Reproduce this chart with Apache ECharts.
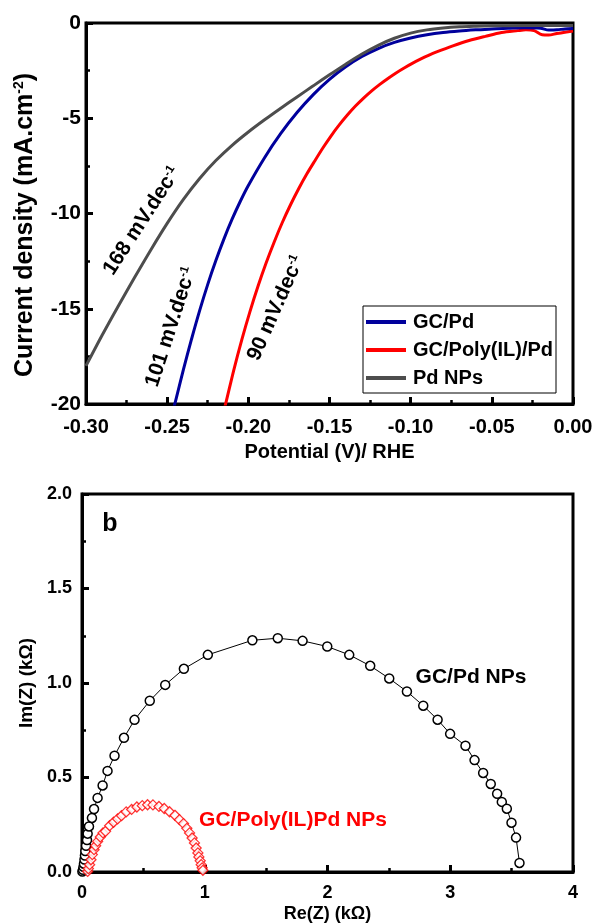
<!DOCTYPE html>
<html>
<head>
<meta charset="utf-8">
<script src="https://cdn.jsdelivr.net/npm/echarts@6/dist/echarts.min.js"></script>
<style>html,body{margin:0;padding:0;background:#fff;}#c{width:596px;height:924px;}</style>
</head>
<body>
<div id="c"></div>
<script>
// ---- Panel a: polarization curves (potential V vs RHE, current density mA/cm2) ----
const potentialTicks = [-0.30, -0.25, -0.20, -0.15, -0.10, -0.05, 0.00];
const pdNPsV = [-0.30,-0.29,-0.28,-0.27,-0.26,-0.25,-0.24,-0.23,-0.22,-0.21,-0.20,-0.19,-0.18,-0.17,-0.16,-0.15,-0.14,-0.13,-0.12,-0.11,-0.10,-0.09,-0.08,-0.07,-0.06,-0.05,-0.04,-0.02,0];
const pdNPsJ = [-18.0,-16.38,-14.84,-13.35,-11.9,-10.52,-9.26,-8.16,-7.22,-6.42,-5.72,-5.08,-4.47,-3.88,-3.3,-2.72,-2.16,-1.63,-1.17,-0.8,-0.53,-0.36,-0.26,-0.2,-0.17,-0.15,-0.14,-0.13,-0.13];
const gcPdV = [-0.246,-0.245,-0.24,-0.235,-0.23,-0.225,-0.22,-0.215,-0.21,-0.205,-0.20,-0.19,-0.18,-0.17,-0.16,-0.15,-0.14,-0.13,-0.12,-0.11,-0.10,-0.09,-0.08,-0.07,-0.06,-0.05,-0.04,-0.03,-0.02,-0.015,-0.01,-0.005,0];
const gcPdJ = [-20.2,-19.9,-18.2,-16.6,-15.1,-13.72,-12.47,-11.33,-10.3,-9.37,-8.53,-7.07,-5.8,-4.7,-3.76,-2.96,-2.3,-1.76,-1.34,-1.02,-0.79,-0.62,-0.5,-0.42,-0.36,-0.31,-0.28,-0.25,-0.27,-0.37,-0.36,-0.31,-0.29];
const polyV = [-0.215,-0.214,-0.209,-0.204,-0.199,-0.194,-0.189,-0.184,-0.179,-0.174,-0.169,-0.164,-0.159,-0.154,-0.149,-0.144,-0.139,-0.134,-0.129,-0.124,-0.119,-0.114,-0.109,-0.104,-0.099,-0.094,-0.089,-0.084,-0.074,-0.064,-0.054,-0.044,-0.034,-0.029,-0.024,-0.019,-0.015,-0.01,-0.005,0];
const polyJ = [-20.3,-20.0,-18.23,-16.62,-15.15,-13.81,-12.59,-11.48,-10.46,-9.54,-8.7,-7.93,-7.23,-6.55,-5.92,-5.35,-4.83,-4.36,-3.94,-3.56,-3.22,-2.91,-2.62,-2.36,-2.12,-1.9,-1.7,-1.52,-1.2,-0.92,-0.7,-0.5,-0.4,-0.36,-0.4,-0.62,-0.63,-0.55,-0.48,-0.42];
const seriesNamesA = ['GC/Pd', 'GC/Poly(IL)/Pd', 'Pd NPs'];

// ---- Panel b: Nyquist plots (kOhm) ----
const gcPdRe = [0.003,0.008,0.012,0.016,0.020,0.024,0.027,0.033,0.041,0.046,0.057,0.081,0.098,0.127,0.168,0.208,0.265,0.342,0.428,0.552,0.678,0.830,1.025,1.388,1.595,1.797,1.998,2.177,2.348,2.503,2.647,2.780,2.897,2.999,3.124,3.198,3.268,3.330,3.382,3.420,3.461,3.499,3.536,3.564];
const gcPdIm = [0.002,0.012,0.027,0.044,0.066,0.087,0.111,0.139,0.169,0.203,0.241,0.286,0.333,0.392,0.458,0.535,0.615,0.710,0.805,0.906,0.990,1.075,1.149,1.226,1.237,1.223,1.193,1.149,1.091,1.024,0.955,0.880,0.806,0.731,0.668,0.592,0.524,0.466,0.414,0.371,0.335,0.261,0.182,0.048];
const polyRe = [0.046,0.052,0.062,0.073,0.084,0.098,0.111,0.127,0.149,0.171,0.192,0.225,0.257,0.290,0.322,0.360,0.404,0.447,0.491,0.534,0.578,0.627,0.670,0.713,0.757,0.794,0.827,0.854,0.876,0.897,0.916,0.930,0.944,0.952,0.963,0.971,0.979,0.985];
const polyIm = [0.003,0.018,0.039,0.065,0.092,0.118,0.139,0.162,0.185,0.207,0.215,0.245,0.263,0.281,0.298,0.318,0.331,0.344,0.351,0.356,0.355,0.347,0.336,0.319,0.300,0.277,0.256,0.231,0.207,0.180,0.154,0.127,0.101,0.080,0.059,0.039,0.022,0.009];

const zip = (a, b) => a.map((v, i) => [v, b[i]]);
const FF = '"Liberation Sans", Arial, sans-serif';
const BLUE = '#00009C', RED = '#FF0000', GRAY = '#4D4D4D';

const chart = echarts.init(document.getElementById('c'), null, {renderer: 'canvas'});

function axisCommon(fs, margin) {
  return {
    axisLine: {show: true, onZero: false, lineStyle: {color: '#000', width: 3}},
    axisTick: {show: true, inside: true, length: 7, lineStyle: {color: '#000', width: 3}},
    minorTick: {show: true, splitNumber: 2, length: 4, lineStyle: {color: '#000', width: 2.5}},
    splitLine: {show: false},
    axisLabel: {color: '#000', fontFamily: FF, fontWeight: 'bold', fontSize: fs, margin: margin}
  };
}

function richName(size, color) {
  return {
    a: {fontFamily: FF, fontWeight: 'bold', fontSize: size, color: color},
    s: {fontFamily: FF, fontWeight: 'bold', fontSize: Math.round(size * 0.55), color: color, verticalAlign: 'top'}
  };
}

const option = {
  animation: false,
  backgroundColor: '#fff',
  grid: [
    {left: 86, top: 23, width: 487, height: 381, show: true, borderColor: '#000', borderWidth: 3},
    {left: 82, top: 494, width: 491, height: 378, show: true, borderColor: '#000', borderWidth: 3}
  ],
  xAxis: [
    Object.assign(axisCommon(20, 12), {
      gridIndex: 0, type: 'value', min: potentialTicks[0], max: potentialTicks[potentialTicks.length - 1], interval: 0.05,
      name: 'Potential (V)/ RHE', nameLocation: 'middle', nameGap: 38,
      nameTextStyle: {fontFamily: FF, fontWeight: 'bold', fontSize: 20, color: '#000'},
      axisLabel: {color: '#000', fontFamily: FF, fontWeight: 'bold', fontSize: 20, margin: 13,
        formatter: v => Math.abs(v) < 1e-9 ? '0.00' : v.toFixed(2)}
    }),
    Object.assign(axisCommon(18, 12), {
      gridIndex: 1, type: 'value', min: 0, max: 4, interval: 1,
      name: 'Re(Z) (kΩ)', nameLocation: 'middle', nameGap: 33,
      nameTextStyle: {fontFamily: FF, fontWeight: 'bold', fontSize: 18, color: '#000'}
    })
  ],
  yAxis: [
    Object.assign(axisCommon(20, 6), {
      gridIndex: 0, type: 'value', min: -20, max: 0, interval: 5,
      axisLabel: {color: '#000', fontFamily: FF, fontWeight: 'bold', fontSize: 21, margin: 5}
    }),
    Object.assign(axisCommon(18, 10), {
      gridIndex: 1, type: 'value', min: 0, max: 2, interval: 0.5,
      name: 'Im(Z) (kΩ)', nameLocation: 'middle', nameGap: 40,
      nameTextStyle: {fontFamily: FF, fontWeight: 'bold', fontSize: 19, color: '#000'},
      axisLabel: {color: '#000', fontFamily: FF, fontWeight: 'bold', fontSize: 18, margin: 10,
        formatter: v => v.toFixed(1)}
    })
  ],
  legend: {
    data: seriesNamesA,
    orient: 'vertical', left: 363, top: 306,
    icon: 'rect', itemWidth: 40, itemHeight: 4, itemGap: 8,
    padding: [6, 3, 5, 3],
    borderColor: '#000', borderWidth: 1, backgroundColor: '#fff',
    textStyle: {fontFamily: FF, fontWeight: 'bold', fontSize: 20, color: '#000', padding: [0, 0, 0, 2]}
  },
  series: [
    {name: seriesNamesA[0], type: 'line', xAxisIndex: 0, yAxisIndex: 0, data: zip(gcPdV, gcPdJ),
      showSymbol: false, symbol: 'none', smooth: 0.3, color: BLUE, lineStyle: {color: BLUE, width: 3}, z: 3},
    {name: seriesNamesA[1], type: 'line', xAxisIndex: 0, yAxisIndex: 0, data: zip(polyV, polyJ),
      showSymbol: false, symbol: 'none', smooth: 0.3, color: RED, lineStyle: {color: RED, width: 3}, z: 2},
    {name: seriesNamesA[2], type: 'line', xAxisIndex: 0, yAxisIndex: 0, data: zip(pdNPsV, pdNPsJ),
      showSymbol: false, symbol: 'none', smooth: 0.3, color: GRAY, lineStyle: {color: GRAY, width: 3}, z: 4},
    {name: 'GC/Pd NPs', type: 'line', xAxisIndex: 1, yAxisIndex: 1, data: zip(gcPdRe, gcPdIm),
      symbol: 'circle', symbolSize: 9, showSymbol: true, showAllSymbol: true, color: '#000',
      itemStyle: {color: '#fff', borderColor: '#000', borderWidth: 1.5},
      lineStyle: {color: '#000', width: 1}, z: 3},
    {name: 'GC/Poly(IL)Pd NPs', type: 'scatter', xAxisIndex: 1, yAxisIndex: 1, data: zip(polyRe, polyIm),
      symbol: 'diamond', symbolSize: 10, color: RED,
      itemStyle: {color: '#fff', borderColor: RED, borderWidth: 1.3}, z: 4}
  ],
  graphic: [
    {type: 'text', x: 25, y: 225, rotation: Math.PI / 2, z: 100,
      style: {text: '{a|Current density (mA.cm}{s|-2}{a|)}', align: 'center', verticalAlign: 'middle', rich: richName(25, '#000')}},
    {type: 'text', x: 142, y: 221, rotation: 57 * Math.PI / 180, z: 100,
      style: {text: '{a|168 mV.dec}{s|-1}', align: 'center', verticalAlign: 'middle', rich: richName(21, GRAY)}},
    {type: 'text', x: 171, y: 327, rotation: 72 * Math.PI / 180, z: 100,
      style: {text: '{a|101 mV.dec}{s|-1}', align: 'center', verticalAlign: 'middle', rich: richName(21, BLUE)}},
    {type: 'text', x: 276, y: 308, rotation: 66 * Math.PI / 180, z: 100,
      style: {text: '{a|90 mV.dec}{s|-1}', align: 'center', verticalAlign: 'middle', rich: richName(21, RED)}},
    {type: 'text', x: 110, y: 524, z: 100,
      style: {text: 'b', align: 'center', verticalAlign: 'middle', fontFamily: FF, fontWeight: 'bold', fontSize: 25, fill: '#000'}},
    {type: 'text', x: 471, y: 677, z: 100,
      style: {text: 'GC/Pd NPs', align: 'center', verticalAlign: 'middle', fontFamily: FF, fontWeight: 'bold', fontSize: 21, fill: '#000'}},
    {type: 'text', x: 293, y: 820, z: 100,
      style: {text: 'GC/Poly(IL)Pd NPs', align: 'center', verticalAlign: 'middle', fontFamily: FF, fontWeight: 'bold', fontSize: 21, fill: RED}}
  ]
};
chart.setOption(option);
</script>
</body>
</html>
